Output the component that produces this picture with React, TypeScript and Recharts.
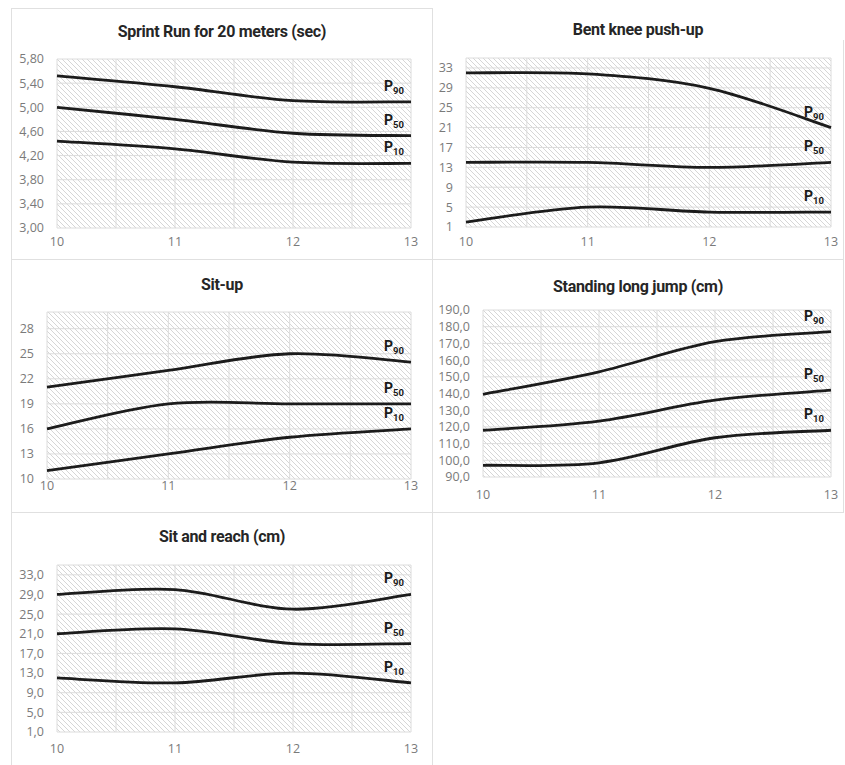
import React from 'react';
import { LineChart, Line, XAxis, YAxis, CartesianGrid, ReferenceLine } from 'recharts';

const AGES = [10, 11, 12, 13];
const AGE_TICKS = [10, 11, 12, 13];
const MINOR_AGES = [10.5, 11.5, 12.5];
const PERCENTILE_KEYS = ['p90', 'p50', 'p10'];
const PERCENTILE_LABELS = ['90', '50', '10'];

const SPRINT_TITLE = 'Sprint Run for 20 meters (sec)';
const SPRINT_P90 = [5.52, 5.34, 5.11, 5.09];
const SPRINT_P50 = [5.0, 4.8, 4.57, 4.53];
const SPRINT_P10 = [4.44, 4.31, 4.09, 4.07];
const SPRINT_TICKS = [3.0, 3.4, 3.8, 4.2, 4.6, 5.0, 5.4, 5.8];

const PUSHUP_TITLE = 'Bent knee push-up';
const PUSHUP_P90 = [32, 31.8, 28.9, 21];
const PUSHUP_P50 = [14, 14, 13, 14];
const PUSHUP_P10 = [2, 5, 4, 4];
const PUSHUP_TICKS = [1, 5, 9, 13, 17, 21, 25, 29, 33];

const SITUP_TITLE = 'Sit-up';
const SITUP_P90 = [21, 23, 25, 24];
const SITUP_P50 = [16, 19, 19, 19];
const SITUP_P10 = [11, 13, 15, 16];
const SITUP_TICKS = [10, 13, 16, 19, 22, 25, 28];

const JUMP_TITLE = 'Standing long jump (cm)';
const JUMP_P90 = [139.5, 153, 171, 177];
const JUMP_P50 = [118, 123.5, 136, 142];
const JUMP_P10 = [97, 98.5, 113.5, 118];
const JUMP_TICKS = [90, 100, 110, 120, 130, 140, 150, 160, 170, 180, 190];

const REACH_TITLE = 'Sit and reach (cm)';
const REACH_P90 = [29, 30, 26, 29];
const REACH_P50 = [21, 22, 19, 19];
const REACH_P10 = [12, 11, 13, 11];
const REACH_TICKS = [1, 5, 9, 13, 17, 21, 25, 29, 33];

const GRID = '#dcdcdc';
const TICK_FONT = { fontSize: 12.5, fill: '#7a7a7a', fontFamily: '"Open Sans", sans-serif' };
const XAXIS_H = 30;

const toRows = (p90: number[], p50: number[], p10: number[]) =>
  AGES.map((age, i) => ({ age, p90: p90[i], p50: p50[i], p10: p10[i] }));

const comma = (digits: number) => (v: number) => v.toFixed(digits).replace('.', ',');

const PANELS = [
  {
    title: SPRINT_TITLE, data: toRows(SPRINT_P90, SPRINT_P50, SPRINT_P10), ticks: SPRINT_TICKS,
    domain: [3, 5.8], fmt: comma(2),
    frame: { x: 11, y: 8, w: 422, h: 252 }, plot: { l: 57, r: 411, t: 59, b: 228 }, titleY: 32, xGap: 15,
  },
  {
    title: PUSHUP_TITLE, data: toRows(PUSHUP_P90, PUSHUP_P50, PUSHUP_P10), ticks: PUSHUP_TICKS,
    domain: [1, 35], fmt: comma(0),
    frame: { x: 433, y: 8, w: 410, h: 252 }, plot: { l: 466, r: 831, t: 58, b: 227 }, titleY: 30, xGap: 16,
  },
  {
    title: SITUP_TITLE, data: toRows(SITUP_P90, SITUP_P50, SITUP_P10), ticks: SITUP_TICKS,
    domain: [10, 30], fmt: comma(0),
    frame: { x: 11, y: 260, w: 422, h: 253 }, plot: { l: 47, r: 411, t: 312, b: 479 }, titleY: 285, xGap: 8,
  },
  {
    title: JUMP_TITLE, data: toRows(JUMP_P90, JUMP_P50, JUMP_P10), ticks: JUMP_TICKS,
    domain: [90, 190], fmt: comma(1),
    frame: { x: 433, y: 260, w: 410, h: 253 }, plot: { l: 483, r: 831, t: 310, b: 477 }, titleY: 287, xGap: 19,
  },
  {
    title: REACH_TITLE, data: toRows(REACH_P90, REACH_P50, REACH_P10), ticks: REACH_TICKS,
    domain: [1, 35], fmt: comma(1),
    frame: { x: 11, y: 513, w: 422, h: 252 }, plot: { l: 57, r: 411, t: 565, b: 732 }, titleY: 537, xGap: 18,
  },
];

// Excel-style smoothed line (Catmull-Rom through the points)
const excelCurve = (context: any) => {
  let pts: number[][] = [];
  return {
    areaStart() {},
    areaEnd() {},
    lineStart() { pts = []; },
    point(x: number, y: number) { pts.push([+x, +y]); },
    lineEnd() {
      if (!pts.length) return;
      context.moveTo(pts[0][0], pts[0][1]);
      for (let i = 0; i < pts.length - 1; i++) {
        const p0 = pts[Math.max(i - 1, 0)];
        const p1 = pts[i];
        const p2 = pts[i + 1];
        const p3 = pts[Math.min(i + 2, pts.length - 1)];
        context.bezierCurveTo(
          p1[0] + (p2[0] - p0[0]) / 6, p1[1] + (p2[1] - p0[1]) / 6,
          p2[0] - (p3[0] - p1[0]) / 6, p2[1] - (p3[1] - p1[1]) / 6,
          p2[0], p2[1],
        );
      }
    },
  };
};

const endLabel = (sub: string, last: number) => (props: any) => {
  const { cx, cy, index } = props;
  if (index !== last) return <g key={`d-${index}`} />;
  return (
    <text key={`l-${index}`} x={cx - 27} y={cy - 11} fontFamily="Roboto, sans-serif" fontWeight={700} fontSize={14} fill="#1a1a1a">
      P<tspan fontSize={9.5} dy={3}>{sub}</tspan>
    </text>
  );
};

const Panel: React.FC<{ p: (typeof PANELS)[number] }> = ({ p }) => {
  const { frame, plot } = p;
  const bottomGap = frame.y + frame.h - plot.b;
  return (
    <>
      <div
        style={{
          position: 'absolute', left: frame.x, top: p.titleY - 10, width: frame.w, textAlign: 'center',
          fontFamily: 'Roboto, sans-serif', fontWeight: 700, fontSize: 16, letterSpacing: -0.3,
          color: '#262626', lineHeight: '20px',
        }}
      >
        {p.title}
      </div>
      <div style={{ position: 'absolute', left: frame.x, top: frame.y }}>
        <LineChart
          width={frame.w}
          height={frame.h}
          data={p.data}
          margin={{ top: plot.t - frame.y, right: frame.x + frame.w - plot.r, left: 0, bottom: bottomGap - XAXIS_H }}
        >
          <CartesianGrid stroke={GRID} fill="url(#hatch)" fillOpacity={1} />
          <XAxis
            dataKey="age" type="number" domain={[10, 13]} ticks={AGE_TICKS} height={XAXIS_H}
            axisLine={false} tickLine={false} tickSize={0} tickMargin={p.xGap - 6} tick={TICK_FONT}
          />
          <YAxis
            type="number" domain={p.domain} ticks={p.ticks} width={plot.l - frame.x} interval={0}
            axisLine={false} tickLine={false} tickSize={0} tickMargin={13} tick={TICK_FONT}
            tickFormatter={p.fmt}
          />
          {MINOR_AGES.map((a) => (
            <ReferenceLine key={a} x={a} stroke={GRID} strokeWidth={1} />
          ))}
          {PERCENTILE_KEYS.map((k, i) => (
            <Line
              key={k} dataKey={k} type={excelCurve as any} stroke="#1c1c1c" strokeWidth={2.8}
              dot={endLabel(PERCENTILE_LABELS[i], AGES.length - 1)} activeDot={false}
              isAnimationActive={false}
            />
          ))}
        </LineChart>
      </div>
    </>
  );
};

const hLine = (x: number, y: number, w: number) => (
  <div style={{ position: 'absolute', left: x, top: y, width: w, height: 1, background: '#e0e0e0' }} />
);
const vLine = (x: number, y: number, h: number) => (
  <div style={{ position: 'absolute', left: x, top: y, width: 1, height: h, background: '#e0e0e0' }} />
);

export default function App() {
  return (
    <div style={{ position: 'absolute', left: 0, top: 0, width: 845, height: 765, background: '#fff', overflow: 'hidden' }}>
      <svg width={0} height={0} style={{ position: 'absolute' }}>
        <defs>
          <pattern id="hatch" width={5} height={5} patternUnits="userSpaceOnUse">
            <rect width={5} height={5} fill="#ffffff" />
            <path d="M0,0 L5,5 M-1,4 L1,6 M4,-1 L6,1" stroke="#d6d6d6" strokeWidth={1} />
          </pattern>
        </defs>
      </svg>
      {hLine(11, 8, 422)}
      {vLine(11, 8, 757)}
      {vLine(432, 8, 757)}
      {vLine(843, 40, 473)}
      {hLine(11, 259, 832)}
      {hLine(11, 512, 832)}
      {PANELS.map((p) => (
        <Panel key={p.title} p={p} />
      ))}
    </div>
  );
}
